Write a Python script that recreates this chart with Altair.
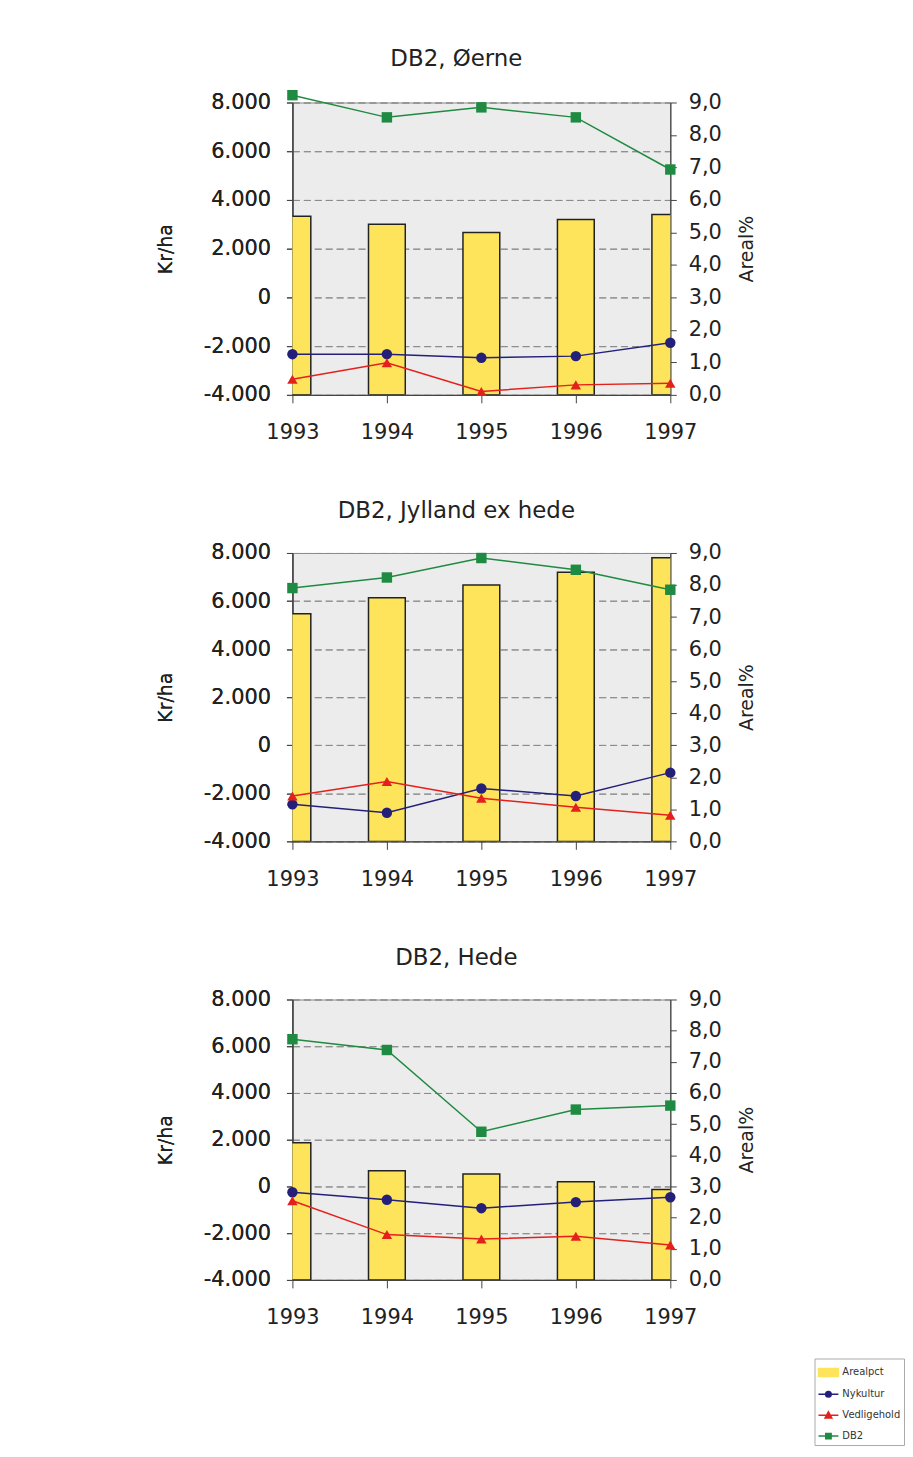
import altair as alt
import pandas as pd

years = ["1993", "1994", "1995", "1996", "1997"]
series_names = ["Arealpct", "Nykultur", "Vedligehold", "DB2"]
series_colors = ["#fde45a", "#24207a", "#e4201c", "#1f8a41"]
line_series = ["Nykultur", "Vedligehold", "DB2"]
line_shapes = ["circle", "triangle-up", "square"]

titles = ["DB2, Øerne", "DB2, Jylland ex hede", "DB2, Hede"]

oerne_arealpct = [5.5, 5.25, 5.0, 5.4, 5.55]
oerne_nykultur = [-2330, -2330, -2480, -2410, -1860]
oerne_vedligehold = [-3360, -2680, -3860, -3590, -3520]
oerne_db2 = [8300, 7390, 7800, 7390, 5250]

jylland_arealpct = [7.1, 7.6, 8.0, 8.4, 8.85]
jylland_nykultur = [-2460, -2810, -1800, -2110, -1140]
jylland_vedligehold = [-2110, -1510, -2210, -2580, -2910]
jylland_db2 = [6540, 6980, 7790, 7300, 6470]

hede_arealpct = [4.4, 3.5, 3.4, 3.15, 2.9]
hede_nykultur = [-250, -570, -930, -670, -460]
hede_vedligehold = [-610, -2060, -2250, -2130, -2510]
hede_db2 = [6300, 5840, 2340, 3290, 3460]

kr_ticks = [-4000, -2000, 0, 2000, 4000, 6000, 8000]
pct_ticks = [0, 1, 2, 3, 4, 5, 6, 7, 8, 9]

FONT = "DejaVu Sans"
kr_label = "replace(replace(format(datum.value, ','), ',', '.'), '\u2212', '-')"
pct_label = "replace(format(datum.value, '.1f'), '.', ',')"

col = dict(zip(series_names, series_colors))
paths = {
    "Arealpct": "M-1,-0.4L1,-0.4L1,0.4L-1,0.4Z",
    "Nykultur": "M-1,0L1,0M0.28,0A0.28,0.28,0,1,1,-0.28,0A0.28,0.28,0,1,1,0.28,0Z",
    "Vedligehold": "M-1,0L1,0M0,-0.34L0.34,0.28L-0.34,0.28Z",
    "DB2": "M-1,0L1,0M-0.27,-0.27L0.27,-0.27L0.27,0.27L-0.27,0.27Z",
}


def chain(mapping):
    expr = "'%s'" % mapping[series_names[-1]]
    for name in reversed(series_names[:-1]):
        expr = "datum.value === '%s' ? '%s' : (%s)" % (name, mapping[name], expr)
    return expr


stroke_map = dict(col)
stroke_map["Arealpct"] = "#333333"

legend = alt.Legend(
    title=None,
    orient="none",
    legendX=525,
    legendY=1263,
    symbolSize=400,
    symbolType={"expr": chain(paths)},
    symbolFillColor={"expr": chain(col)},
    symbolStrokeColor={"expr": chain(stroke_map)},
    symbolStrokeWidth=1.5,
    symbolOpacity=1,
    labelFont=FONT,
    labelFontSize=10,
    labelColor="#333",
    labelOffset=3,
    rowPadding=4,
    padding=3,
    strokeColor="#aaaaaa",
    fillColor="white",
    values=series_names,
)


def panel(title, areal, nyk, ved, db2, h):
    bars_df = pd.DataFrame({"year": years, "areal": areal})
    rows = []
    for name, vals in zip(line_series, [nyk, ved, db2]):
        for y, v in zip(years, vals):
            rows.append({"year": y, "series": name, "value": v})
    lines_df = pd.DataFrame(rows)

    x = alt.X(
        "year:O",
        scale=alt.Scale(type="point", padding=0),
        axis=alt.Axis(title=None, labelAngle=0, tickSize=8, labelPadding=19),
    )
    bars = alt.Chart(bars_df).mark_bar(
        size=37, clip=True, fill=col["Arealpct"], stroke="#222", strokeWidth=1.5
    ).encode(
        x=x,
        y=alt.Y(
            "areal:Q",
            scale=alt.Scale(domain=[0, 9], nice=False, zero=True),
            axis=alt.Axis(orient="right", values=pct_ticks, labelExpr=pct_label,
                          title="Areal%", titleAngle=270, titleBaseline="top",
                          grid=False, tickSize=6, labelPadding=12, titlePadding=16),
        ),
    )
    yk = alt.Y(
        "value:Q",
        scale=alt.Scale(domain=[-4000, 8000], nice=False),
        axis=alt.Axis(orient="left", values=kr_ticks, labelExpr=kr_label,
                      title="Kr/ha", grid=True, gridDash=[7, 4], gridColor="#8c8c8c",
                      gridWidth=1, tickSize=6, labelPadding=16, titlePadding=28),
    )
    color = alt.Color("series:N", scale=alt.Scale(domain=series_names, range=series_colors),
                      legend=legend)
    lines = alt.Chart(lines_df).mark_line(strokeWidth=1.5).encode(x=x, y=yk, color=color)
    points = alt.Chart(lines_df).mark_point(filled=True, size=110, opacity=1).encode(
        x=x, y=yk, color=color,
        shape=alt.Shape("series:N", scale=alt.Scale(domain=line_series, range=line_shapes),
                        legend=None),
    )
    return alt.layer(bars, lines, points).resolve_scale(y="independent").properties(
        width=380, height=h,
        title=alt.TitleParams(title, font=FONT, fontSize=23, fontWeight="normal",
                              anchor="middle", frame="bounds", offset=19, color="#222"),
    )


p1 = panel(titles[0], oerne_arealpct, oerne_nykultur, oerne_vedligehold, oerne_db2, 294)
p2 = panel(titles[1], jylland_arealpct, jylland_nykultur, jylland_vedligehold, jylland_db2, 290)
p3 = panel(titles[2], hede_arealpct, hede_nykultur, hede_vedligehold, hede_db2, 282)

chart = alt.vconcat(p1, p2, p3, spacing=56).properties(
    padding={"left": 148, "top": 35, "right": 0, "bottom": 0},
).configure_view(fill="#ececec", stroke="#888", strokeWidth=1).configure_axis(
    labelFont=FONT, labelFontSize=21, labelColor="#222",
    titleFont=FONT, titleFontSize=19, titleFontWeight="normal", titleColor="#222",
    domainColor="#444", tickColor="#444", domainWidth=1.2,
)

chart.save("out.html", embed_options={"renderer": "svg", "actions": False})
